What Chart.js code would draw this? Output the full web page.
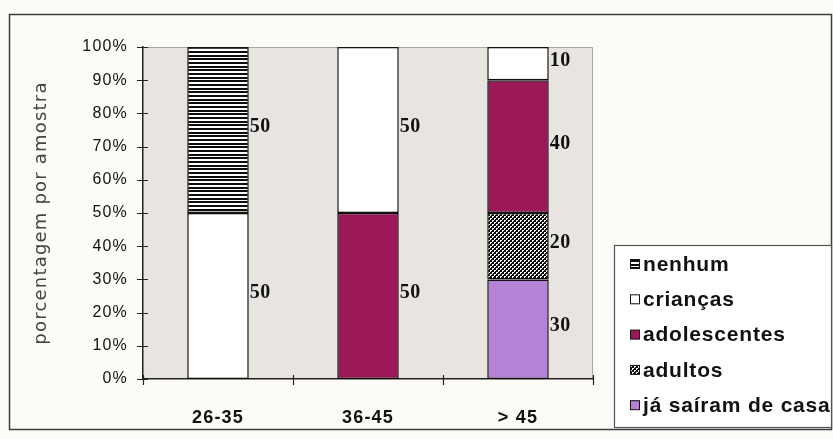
<!DOCTYPE html>
<html>
<head>
<meta charset="utf-8">
<script src="https://cdn.jsdelivr.net/npm/chart.js@4/dist/chart.umd.min.js"></script>
<style>
  html, body { margin: 0; padding: 0; background: #fcfbf8; }
  #wrap { width: 833px; height: 439px; }
</style>
</head>
<body>
<div id="wrap"><canvas id="c" width="833" height="439"></canvas></div>
<script>
// Age groups of the respondents
const categories = ['26-35', '36-45', '> 45'];

// Share of the sample (%) by situation of the children, stacked bottom to top
const jaSairamDeCasa = [null, null, 30];
const adultos        = [null, null, 20];
const adolescentes   = [null, 50, 40];
const criancas       = [50, 50, 10];
const nenhum         = [50, null, null];

const yTicks = [0, 10, 20, 30, 40, 50, 60, 70, 80, 90, 100];

// --- fill patterns ---
function makePattern(w, h, draw) {
  const cv = document.createElement('canvas');
  cv.width = w; cv.height = h;
  const g = cv.getContext('2d');
  draw(g);
  return g.createPattern(cv, 'repeat');
}
const stripes = makePattern(1, 11, g => {
  g.fillStyle = '#ffffff'; g.fillRect(0, 0, 1, 11);
  g.fillStyle = '#0c0c0c';
  [0, 1, 3, 4, 7, 8].forEach(r => g.fillRect(0, r, 1, 1));
});
const checker = makePattern(4, 4, g => {
  g.fillStyle = '#0a0a0a'; g.fillRect(0, 0, 4, 4);
  g.fillStyle = '#ffffff';
  [[0,0],[1,0],[0,1],[2,2],[3,2],[2,3]].forEach(([x, y]) => g.fillRect(x, y, 1, 1));
});

const datasets = [
  { label: 'já saíram de casa', data: jaSairamDeCasa, backgroundColor: '#b682d6' },
  { label: 'adultos',           data: adultos,        backgroundColor: checker },
  { label: 'adolescentes',      data: adolescentes,   backgroundColor: '#9c1858' },
  { label: 'crianças',          data: criancas,       backgroundColor: '#ffffff' },
  { label: 'nenhum',            data: nenhum,         backgroundColor: stripes }
].map(d => Object.assign(d, {
  borderColor: '#111111',
  borderWidth: 1.5,
  borderSkipped: false,
  barPercentage: 0.41,
  categoryPercentage: 1
}));

// Frame, plot background, ticks crossing the axes, boxed legend
const framePlugin = {
  id: 'frame',
  beforeDraw(chart) {
    const { ctx, chartArea: a } = chart;
    ctx.save();
    ctx.fillStyle = '#fcfbf8';
    ctx.fillRect(0, 0, chart.width, chart.height);
    ctx.fillStyle = '#e8e5e1';
    ctx.fillRect(a.left, a.top, a.right - a.left, a.bottom - a.top);
    ctx.strokeStyle = '#a8a6a2';
    ctx.lineWidth = 1;
    ctx.beginPath();
    ctx.moveTo(a.left, a.top + 0.5);
    ctx.lineTo(a.right - 0.5, a.top + 0.5);
    ctx.lineTo(a.right - 0.5, a.bottom);
    ctx.stroke();
    ctx.strokeStyle = '#3c3c3c';
    ctx.lineWidth = 1.5;
    ctx.strokeRect(9.5, 14.5, 822, 415);
    ctx.restore();
    ctx.letterSpacing = '1.2px';
  },
  afterDraw(chart) {
    const { ctx, chartArea: a, scales } = chart;
    ctx.save();
    ctx.letterSpacing = '0px';
    ctx.strokeStyle = '#222';
    ctx.lineWidth = 1.2;
    ctx.beginPath();
    yTicks.forEach(v => {
      const y = Math.round(scales.y.getPixelForValue(v)) + 0.5;
      ctx.moveTo(a.left - 6, y);
      ctx.lineTo(a.left + 5, y);
    });
    for (let i = 0; i <= categories.length; i++) {
      const x = Math.round(scales.x.getPixelForValue(i - 0.5)) + 0.5;
      ctx.moveTo(x, a.bottom - 4);
      ctx.lineTo(x, a.bottom + 6);
    }
    ctx.stroke();

    // legend box
    const lx = 614, ly = 245, lw = 217, lh = 182;
    ctx.fillStyle = '#ffffff';
    ctx.fillRect(lx, ly, lw, lh);
    ctx.strokeStyle = '#555';
    ctx.lineWidth = 1.2;
    ctx.strokeRect(lx + 0.5, ly + 0.5, lw, lh);
    const items = chart.data.datasets.slice().reverse();
    ctx.font = 'bold 21px "Liberation Sans", Arial, sans-serif';
    ctx.textBaseline = 'middle';
    ctx.textAlign = 'left';
    ctx.letterSpacing = '0.8px';
    items.forEach((d, i) => {
      const cy = 264 + i * 35.3;
      ctx.fillStyle = d.backgroundColor;
      ctx.fillRect(630, cy - 4.5, 9, 9);
      ctx.strokeStyle = '#111';
      ctx.lineWidth = 1;
      ctx.strokeRect(630.5, cy - 4.5, 9, 9);
      ctx.fillStyle = '#111';
      ctx.fillText(d.label, 643, cy + 1);
    });
    ctx.restore();
    ctx.letterSpacing = '0px';
  }
};

// Value labels beside each stacked segment
const valueLabels = {
  id: 'valueLabels',
  afterDatasetsDraw(chart) {
    const { ctx } = chart;
    ctx.save();
    ctx.letterSpacing = '0.5px';
    ctx.font = 'bold 20px "Liberation Serif", "Times New Roman", serif';
    ctx.fillStyle = '#111';
    ctx.textAlign = 'left';
    ctx.textBaseline = 'middle';
    chart.data.datasets.forEach((d, di) => {
      const meta = chart.getDatasetMeta(di);
      meta.data.forEach((el, i) => {
        const v = d.data[i];
        if (v === null || v === undefined) return;
        const x = el.x + el.width / 2 + 1;
        const y = (el.y + el.base) / 2 - 3;
        ctx.fillText(String(v), x, y);
      });
    });
    ctx.restore();
  }
};

new Chart(document.getElementById('c'), {
  type: 'bar',
  data: { labels: categories, datasets },
  options: {
    responsive: false,
    animation: false,
    devicePixelRatio: 1,
    layout: { padding: { left: 0, top: 47, right: 240, bottom: 0 } },
    plugins: { legend: { display: false }, tooltip: { enabled: false } },
    scales: {
      x: {
        stacked: true,
        grid: { display: false, offset: true },
        border: { display: true, color: '#222', width: 1.5 },
        ticks: {
          padding: 20,
          color: '#111',
          font: { family: '"Liberation Sans", Arial, sans-serif', size: 18, weight: 'bold' }
        },
        afterFit(s) { s.height = 60; }
      },
      y: {
        stacked: true,
        min: 0,
        max: 100,
        grid: { display: false, drawTicks: false },
        border: { display: true, color: '#222', width: 1.5 },
        afterBuildTicks(s) { s.ticks = yTicks.map(v => ({ value: v })); },
        ticks: {
          padding: 15,
          color: '#111',
          font: { family: '"Liberation Sans", Arial, sans-serif', size: 16 },
          callback: v => v + '%'
        },
        title: {
          display: true,
          text: 'porcentagem por amostra',
          color: '#444',
          padding: { top: 31, bottom: 0 },
          font: { family: '"DejaVu Sans", sans-serif', size: 18, weight: 'normal' }
        },
        afterFit(s) { s.width = 143; }
      }
    }
  },
  plugins: [framePlugin, valueLabels]
});
</script>
</body>
</html>
